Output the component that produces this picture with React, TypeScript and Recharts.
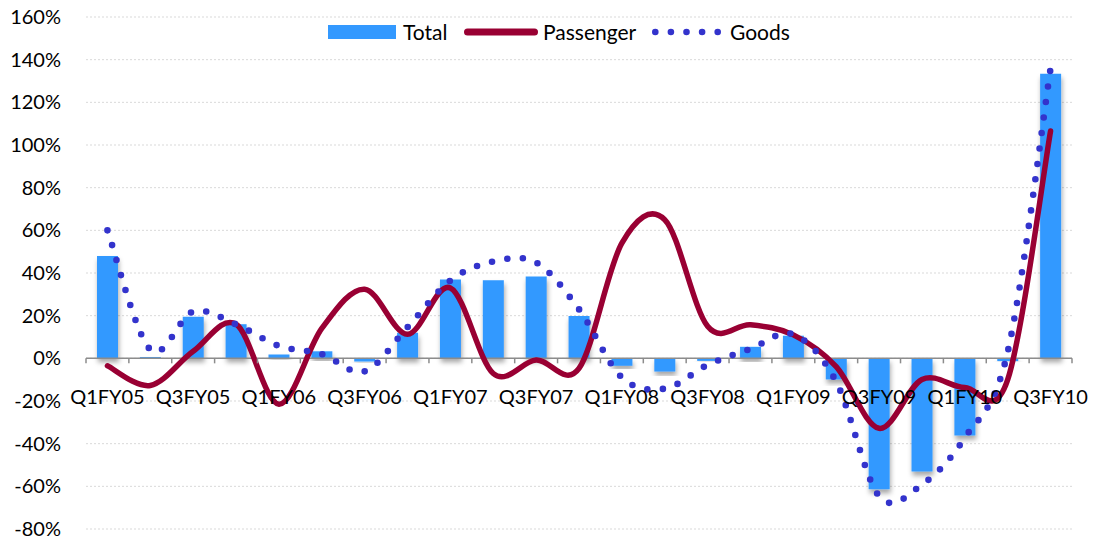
import {
  Bar,
  CartesianGrid,
  ComposedChart,
  Line,
  ReferenceLine,
  XAxis,
  YAxis,
} from "recharts";

const quarters = [
  "Q1FY05", "Q2FY05", "Q3FY05", "Q4FY05",
  "Q1FY06", "Q2FY06", "Q3FY06", "Q4FY06",
  "Q1FY07", "Q2FY07", "Q3FY07", "Q4FY07",
  "Q1FY08", "Q2FY08", "Q3FY08", "Q4FY08",
  "Q1FY09", "Q2FY09", "Q3FY09", "Q4FY09",
  "Q1FY10", "Q2FY10", "Q3FY10",
];

// growth, % yoy
const total = [
  48, 0.6, 19.5, 16, 1.8, 3.3, -1.5, 12, 36.9, 36.6, 38.4, 19.9,
  -3.5, -6.2, -1.2, 5.4, 10.6, -9.9, -61.4, -53, -36.2, -1.3, 133.4,
];
const passenger = [
  -3.5, -12.7, 3.3, 16, -21.5, 14, 32.4, 11.3, 33, -7.1, -0.8, -4.7,
  54, 65, 15, 15.7, 11, -3.9, -32.8, -9.9, -13.7, -10, 106.6,
];
const goods = [
  60, 4.1, 21.9, 15.9, 5.8, 2, -6.1, 14.6, 36.5, 45.4, 44.9, 23,
  -9, -14.2, -3.1, 4.4, 11.2, -11, -64.6, -59.2, -37.2, 3, 135.9,
];
const yTicks = [-80, -60, -40, -20, 0, 20, 40, 60, 80, 100, 120, 140, 160];

const data = quarters.map((q, i) => ({
  q,
  total: total[i],
  passenger: passenger[i],
  goods: goods[i],
}));

// chart covers the whole page (body margin removed)
const W = 1093;
const H = 540;
const X_AXIS_H = 1;
const margin = { top: 17, right: 21, bottom: 10, left: 8 };
const Y_AXIS_W = 78;
const plotW = W - margin.left - margin.right - Y_AXIS_W;
const plotH = H - margin.top - margin.bottom - X_AXIS_H;
const zeroY = margin.top + (plotH * 160) / 240;
const band = plotW / quarters.length;

const FONT = "Lato, 'Open Sans', sans-serif";
const AXIS_GREY = "#8c8c8c";

// excel-ish smoothed line (catmull-rom through the points)
function smooth(context: any) {
  let xs: number[] = [];
  let ys: number[] = [];
  return {
    areaStart() {},
    areaEnd() {},
    lineStart() {
      xs = [];
      ys = [];
    },
    point(x: number, y: number) {
      xs.push(+x);
      ys.push(+y);
    },
    lineEnd() {
      const n = xs.length;
      if (!n) return;
      context.moveTo(xs[0], ys[0]);
      for (let i = 0; i < n - 1; i++) {
        const a = Math.max(i - 1, 0);
        const d = Math.min(i + 2, n - 1);
        context.bezierCurveTo(
          xs[i] + (xs[i + 1] - xs[a]) / 6,
          ys[i] + (ys[i + 1] - ys[a]) / 6,
          xs[i + 1] - (xs[d] - xs[i]) / 6,
          ys[i + 1] - (ys[d] - ys[i]) / 6,
          xs[i + 1],
          ys[i + 1]
        );
      }
    },
  };
}

function QuarterTick(props: any) {
  const { x, index, payload } = props;
  const last = index === quarters.length - 1;
  return (
    <g>
      <line x1={x - band / 2} x2={x - band / 2} y1={zeroY} y2={zeroY + 5} stroke={AXIS_GREY} strokeWidth={1.5} />
      {last && (
        <line x1={x + band / 2} x2={x + band / 2} y1={zeroY} y2={zeroY + 5} stroke={AXIS_GREY} strokeWidth={1.5} />
      )}
      {index % 2 === 0 && (
        <text x={x} y={zeroY + 39} dy="0.355em" textAnchor="middle" fontSize={20} fontFamily={FONT} fill="#000">
          {payload.value}
        </text>
      )}
    </g>
  );
}

function ChartLegend() {
  const text = { fontSize: 21, color: "#000", lineHeight: "22px", display: "inline-block" };
  return (
    <div
      style={{
        position: "absolute",
        top: 21,
        left: 328,
        height: 22,
        display: "flex",
        alignItems: "center",
        fontFamily: FONT,
        whiteSpace: "nowrap",
      }}
    >
      <div style={{ width: 68, height: 14, background: "#3399ff", marginRight: 7 }} />
      <span style={{ ...text, width: 49, marginRight: 12 }}>Total</span>
      <svg width={74} height={10} style={{ marginRight: 5 }}>
        <line x1={3.5} x2={70.5} y1={5} y2={5} stroke="#990033" strokeWidth={7} strokeLinecap="round" />
      </svg>
      <span style={{ ...text, width: 95, marginRight: 14 }}>Passenger</span>
      <svg width={69} height={10} style={{ marginRight: 9 }}>
        <line x1={3.3} x2={66} y1={5} y2={5} stroke="#3333cc" strokeWidth={6.6} strokeDasharray="0 15.6" strokeLinecap="round" />
      </svg>
      <span style={{ ...text, width: 62 }}>Goods</span>
    </div>
  );
}

export default function App() {
  return (
    <div style={{ position: "relative", width: W, height: H, fontFamily: FONT }}>
      <style>{"body { margin: 0; overflow: hidden; }"}</style>
      <ComposedChart width={W} height={H} data={data} margin={margin}>
        <defs>
          <filter id="barShadow" x="-30%" y="-30%" width="160%" height="160%">
            <feDropShadow dx="1" dy="4" stdDeviation="2.5" floodColor="#000" floodOpacity="0.35" />
          </filter>
        </defs>
        <CartesianGrid vertical={false} stroke="#d9d9d9" strokeDasharray="2 2" />
        <XAxis
          dataKey="q"
          height={X_AXIS_H}
          interval={0}
          axisLine={false}
          tickLine={false}
          tick={<QuarterTick />}
        />
        <YAxis
          width={Y_AXIS_W}
          domain={[-80, 160]}
          ticks={yTicks}
          interval={0}
          axisLine={false}
          tickLine={false}
          tickSize={0}
          tickMargin={25}
          tickFormatter={(v: number) => `${v}%`}
          tick={{ fontSize: 20, fill: "#000", fontFamily: FONT }}
        />
        <Bar dataKey="total" fill="#3399ff" barSize={21} filter="url(#barShadow)" isAnimationActive={false} />
        <ReferenceLine y={0} stroke={AXIS_GREY} strokeWidth={1.5} />
        <Line
          dataKey="passenger"
          type={smooth as any}
          stroke="#990033"
          strokeWidth={5.5}
          strokeLinecap="round"
          dot={false}
          activeDot={false}
          isAnimationActive={false}
        />
        <Line
          dataKey="goods"
          type={smooth as any}
          stroke="#3333cc"
          strokeWidth={6.6}
          strokeDasharray="0 15.6"
          strokeLinecap="round"
          dot={false}
          activeDot={false}
          isAnimationActive={false}
        />
      </ComposedChart>
      <ChartLegend />
    </div>
  );
}
